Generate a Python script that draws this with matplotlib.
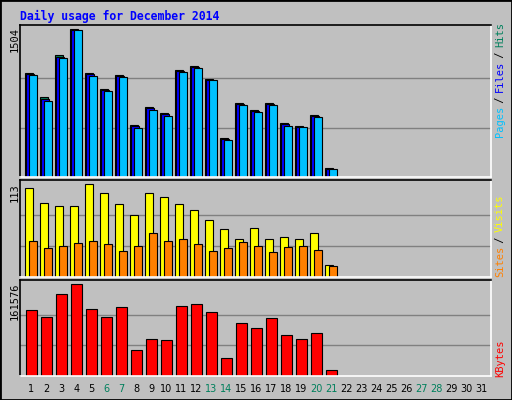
import matplotlib
matplotlib.use("Agg")
import matplotlib.pyplot as plt
from matplotlib.patches import Rectangle

days = list(range(1, 32))
f = 1504 / 442
hits_h = [311,238,364,442,310,262,304,154,208,190,319,331,292,115,220,199,220,160,151,184,25]
files_h = [308,234,360,440,307,259,302,152,205,187,316,329,290,113,217,196,218,157,149,182,23]
pages_h = [306,226,355,439,303,256,300,146,199,181,313,327,289,111,214,193,216,151,148,180,24]
hits = [round(v * f) for v in hits_h]
files = [round(v * f) for v in files_h]
pages = [round(v * f) for v in pages_h]
visits = [109,90,87,87,113,103,89,76,103,97,89,82,70,58,46,60,46,49,46,54,14]
sites = [44,35,38,41,44,40,31,37,53,44,46,40,31,35,42,38,30,36,37,33,13]
kb_h = [196,175,244,274,199,175,205,76,109,106,208,214,190,52,157,142,172,121,109,127,16]
kbytes = [round(v / 274 * 161576) for v in kb_h]
weekend = [6, 7, 13, 14, 20, 21, 27, 28]

W, H = 512, 400
fig = plt.figure(figsize=(W/100, H/100), dpi=100, facecolor="#C0C0C0")
fig.patches.append(Rectangle((0, 0), 1, 1, transform=fig.transFigure, fill=False, ec="black", lw=2))

def ax_at(top, bot):
    ax = fig.add_axes([20/W, 1-bot/H, 471/W, (bot-top)/H])
    ax.set_facecolor("#C0C0C0")
    ax.set_xlim(0.233, 31.63)
    ax.set_xticks([]); ax.set_yticks([])
    ax.spines["top"].set_color("black"); ax.spines["left"].set_color("black")
    ax.spines["bottom"].set_color("white"); ax.spines["right"].set_color("white")
    for s in ax.spines.values(): s.set_linewidth(1.2)
    return ax

def grid(ax, m):
    for k in (1, 2):
        ax.axhline(m*k/3, color="#808080", lw=1, zorder=0)

ec = dict(edgecolor="black", linewidth=0.8)
d = days[:len(hits)]
ax1 = ax_at(25, 176.7)
ax1.set_ylim(0, 1548)
grid(ax1, 1504)
ax1.bar([x-0.17 for x in d], hits, 0.5, color="#00805C", **ec)
ax1.bar([x-0.1 for x in d], files, 0.5, color="#0000FF", **ec)
ax1.bar([x+0.08 for x in d], pages, 0.53, color="#00C0FF", **ec)

ax2 = ax_at(180, 276.7)
ax2.set_ylim(0, 118.4)
grid(ax2, 113)
ax2.bar([x-0.17 for x in d], visits, 0.5, color="#FFFF00", **ec)
ax2.bar([x+0.08 for x in d], sites, 0.53, color="#FF8000", **ec)

ax3 = ax_at(280, 375.7)
ax3.set_ylim(0, 169360)
grid(ax3, 161576)
ax3.bar([x-0.01 for x in d], kbytes, 0.71, color="#FF0000", **ec)

def px(x, y):
    return x/W, 1-y/H

fig.text(*px(20, 16), "Daily usage for December 2014", color="#0000FF", family="DejaVu Sans Mono",
         weight="bold", fontsize=8.3, va="center", ha="left")
for y, s in ((27, "1504"), (183, "113"), (283, "161576")):
    fig.text(*px(15, y), s, rotation=90, ha="center", va="top", fontsize=7.5, family="DejaVu Sans Mono")

def stack(ybottom, parts):
    y = ybottom
    for s, c in parts:
        fig.text(*px(500, y), s, rotation=90, ha="center", va="bottom", color=c,
                 fontsize=7.5, family="DejaVu Sans Mono")
        y -= len(s) * 5.6
stack(137, [("Pages", "#00C0FF"), (" / ", "black"), ("Files", "#0000FF"), (" / ", "black"), ("Hits", "#00805C")])
stack(277, [("Sites", "#FF8000"), (" / ", "black"), ("Visits", "#FFFF00")])
stack(377, [("KBytes", "#FF0000")])

for dd in days:
    x = 20 + 11.5 + (dd-1)*15
    fig.text(*px(x, 389), str(dd), ha="center", va="center", fontsize=7,
             color="#00805C" if dd in weekend else "black")

fig.savefig("out.png", dpi=100, facecolor=fig.get_facecolor())
